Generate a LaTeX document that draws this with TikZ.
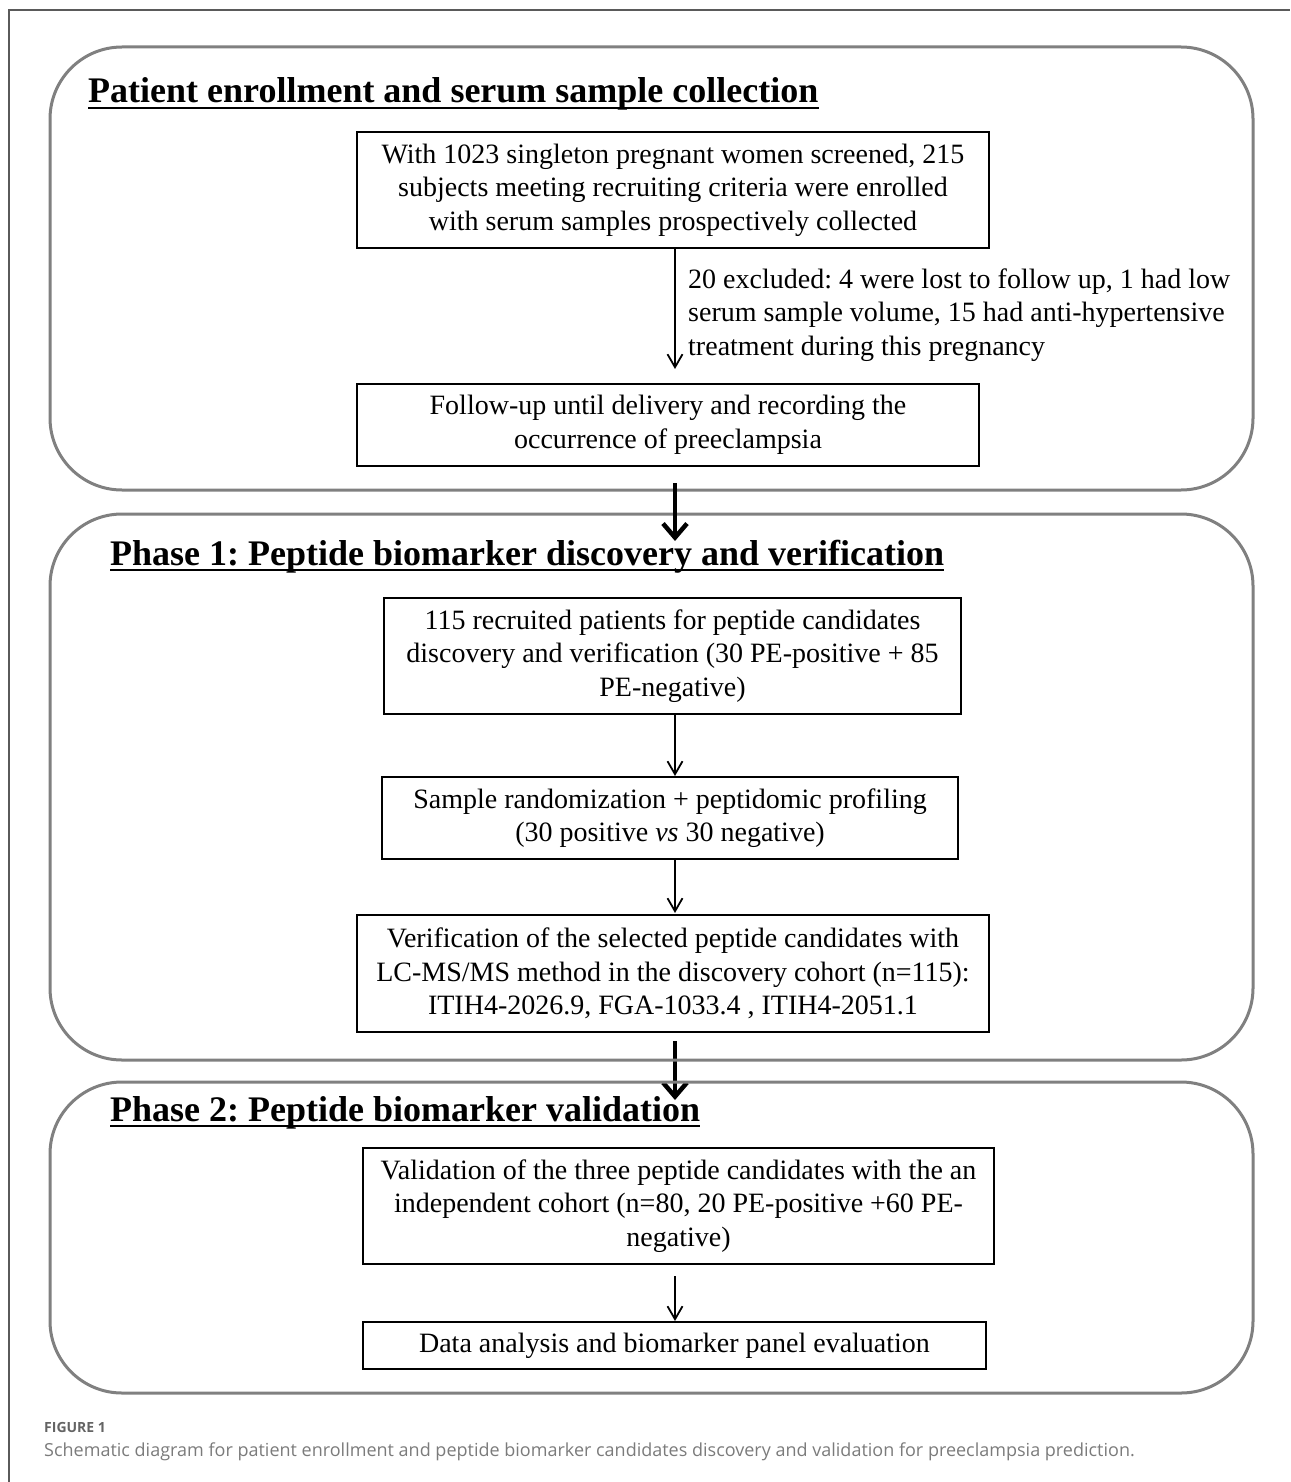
\documentclass[tikz,border=0pt]{standalone}
\usepackage{fontspec}
\setmainfont{Liberation Serif}
\newfontfamily\capfont{Open Sans}
\usetikzlibrary{arrows.meta}
\definecolor{framegray}{RGB}{90,90,90}
\definecolor{panelgray}{RGB}{128,128,128}
\definecolor{capgray}{RGB}{100,100,100}
\tikzset{
  panel/.style={draw=panelgray, line width=3, rounded corners=72},
  stepbox/.style={draw=black, line width=2.3, inner sep=0, align=center,
    font=\fontsize{28}{33.5}\selectfont},
  thinarrow/.style={line width=1.8, -{Straight Barb[length=13,width=15,line width=1.8]}},
  thickarrow/.style={line width=4.5, -{Straight Barb[length=14,width=24,line width=4.5]}},
  ptitle/.style={inner sep=0, anchor=base west, font=\fontsize{36}{40}\selectfont\bfseries},
  uline/.style={line width=2.2}
}
\begin{document}
\frenchspacing
\begin{tikzpicture}[x=1pt,y=-1pt]
\useasboundingbox (0,0) rectangle (1290,1482);
% figure frame
\draw[framegray, line width=1.3] (9,1482) -- (9,10) -- (1290,10);

% step boxes
\node[stepbox, minimum width=632, minimum height=116] (A) at (673,190)
  {With 1023 singleton pregnant women screened, 215\\subjects meeting recruiting criteria were enrolled\\with serum samples prospectively collected};
\node[stepbox, minimum width=622, minimum height=82] (B) at (668,425)
  {Follow-up until delivery and recording the\\occurrence of preeclampsia};
\node[stepbox, minimum width=577, minimum height=116] (C) at (672.5,656)
  {115 recruited patients for peptide candidates\\discovery and verification (30 PE-positive + 85\\PE-negative)};
\node[stepbox, minimum width=576, minimum height=82] (D) at (670,818)
  {Sample randomization + peptidomic profiling\\(30 positive \textit{vs} 30 negative)};
\node[stepbox, minimum width=632, minimum height=117] (E) at (673,973.5)
  {Verification of the selected peptide candidates with\\LC-MS/MS method in the discovery cohort (n=115):\\ITIH4-2026.9, FGA-1033.4 , ITIH4-2051.1};
\node[stepbox, minimum width=631, minimum height=116] (F) at (678.5,1206)
  {Validation of the three peptide candidates with the an\\independent cohort (n=80, 20 PE-positive +60 PE-\\negative)};
\node[stepbox, minimum width=623, minimum height=47] (G) at (674.5,1345.5)
  {Data analysis and biomarker panel evaluation};

% exclusion label (base = last line)
\node[inner sep=0, anchor=base west, align=left, font=\fontsize{28}{33.5}\selectfont] (X) at (688,355)
  {20 excluded: 4 were lost to follow up, 1 had low\\serum sample volume, 15 had anti-hypertensive\\treatment during this pregnancy};

% thin arrows
\coordinate (Abot) at (675,248);
\coordinate (Btop) at (675,369);
\coordinate (Cbot) at (675,714);
\coordinate (Dtop) at (675,776);
\coordinate (Dbot) at (675,859);
\coordinate (Etop) at (675,913);
\coordinate (Fbot) at (675,1276);
\coordinate (Gtop) at (675,1321);
\draw[thinarrow] (Abot) -- (Btop);
\draw[thinarrow] (Cbot) -- (Dtop);
\draw[thinarrow] (Dbot) -- (Etop);
\draw[thinarrow] (Fbot) -- (Gtop);

% thick arrow between phase 1 and 2 (under panels)
\coordinate (P2a) at (675,1041);
\coordinate (P2b) at (675,1100);
\draw[thickarrow] (P2a) -- (P2b);

% panels
\node[panel, minimum width=1203, minimum height=443] (P0) at (651.5,268.5) {};
\node[panel, minimum width=1203, minimum height=546] (P1) at (651.5,787) {};
\node[panel, minimum width=1203, minimum height=311] (P2) at (651.5,1237.5) {};

% thick arrow between enrollment and phase 1
\coordinate (P1a) at (675,483);
\coordinate (P1b) at (675,541);
\draw[thickarrow] (P1a) -- (P1b);

% titles
\node[ptitle] (T0) at (88,103) {Patient enrollment and serum sample collection};
\draw[uline] ([yshift=-5]T0.base west) -- ([yshift=-5]T0.base east);
\node[ptitle] (T1) at (110,565) {Phase 1: Peptide biomarker discovery and verification};
\draw[uline] ([yshift=-5]T1.base west) -- ([yshift=-5]T1.base east);
\node[ptitle] (T2) at (110,1121) {Phase 2: Peptide biomarker validation};
\draw[uline] ([yshift=-5]T2.base west) -- ([yshift=-5]T2.base east);

% caption
\node[inner sep=0, anchor=base west, font=\capfont\bfseries\fontsize{14}{16}\selectfont, text=capgray] (C1) at (44,1432) {FIGURE 1};
\node[inner sep=0, anchor=base west, font=\capfont\fontsize{18}{20}\selectfont, text=capgray!85] (C2) at (44,1456)
  {Schematic diagram for patient enrollment and peptide biomarker candidates discovery and validation for preeclampsia prediction.};
\end{tikzpicture}
\end{document}
